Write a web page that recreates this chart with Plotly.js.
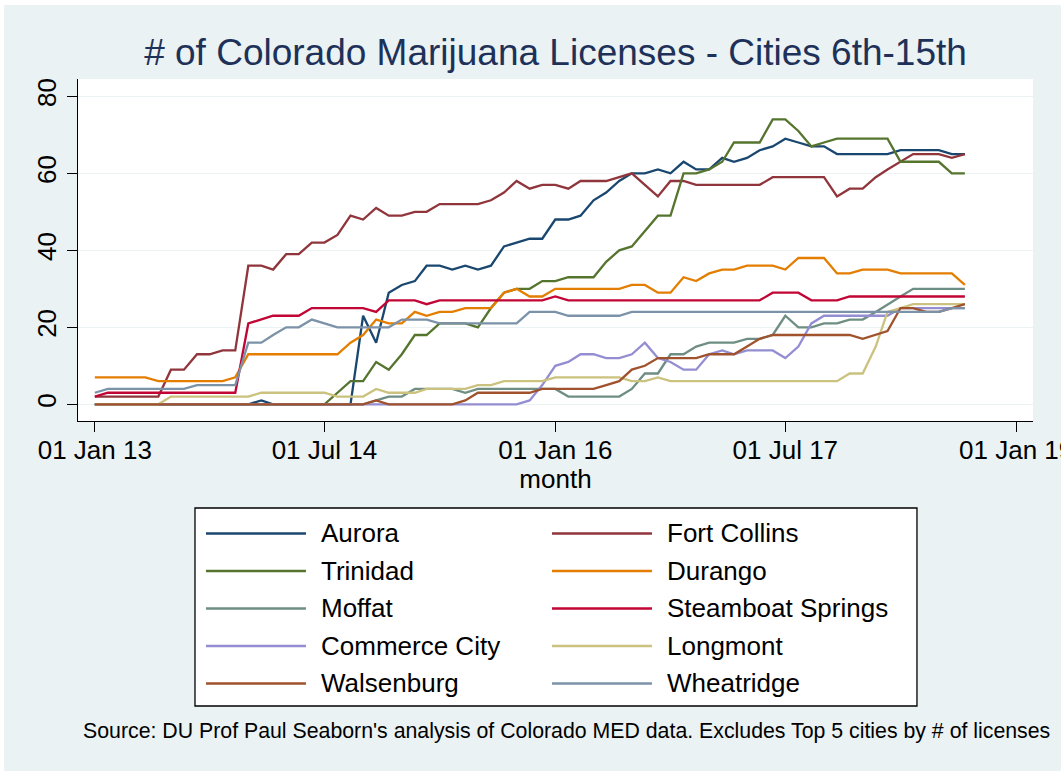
<!DOCTYPE html>
<html>
<head>
<meta charset="utf-8">
<script src="https://cdn.plot.ly/plotly-3.0.1.min.js"></script>
<style>
  html, body { margin: 0; padding: 0; background: #ffffff; }
  #chart { position: absolute; left: 4px; top: 5px; width: 1057px; height: 766px; }
</style>
</head>
<body>
<div id="chart"></div>
<script>
// Months: Jan 2013 .. Sep 2018
const months = [
  "2013-01-01","2013-02-01","2013-03-01","2013-04-01","2013-05-01","2013-06-01","2013-07-01","2013-08-01","2013-09-01","2013-10-01","2013-11-01","2013-12-01",
  "2014-01-01","2014-02-01","2014-03-01","2014-04-01","2014-05-01","2014-06-01","2014-07-01","2014-08-01","2014-09-01","2014-10-01","2014-11-01","2014-12-01",
  "2015-01-01","2015-02-01","2015-03-01","2015-04-01","2015-05-01","2015-06-01","2015-07-01","2015-08-01","2015-09-01","2015-10-01","2015-11-01","2015-12-01",
  "2016-01-01","2016-02-01","2016-03-01","2016-04-01","2016-05-01","2016-06-01","2016-07-01","2016-08-01","2016-09-01","2016-10-01","2016-11-01","2016-12-01",
  "2017-01-01","2017-02-01","2017-03-01","2017-04-01","2017-05-01","2017-06-01","2017-07-01","2017-08-01","2017-09-01","2017-10-01","2017-11-01","2017-12-01",
  "2018-01-01","2018-02-01","2018-03-01","2018-04-01","2018-05-01","2018-06-01","2018-07-01","2018-08-01","2018-09-01"
];

const cityNames = ["Aurora","Fort Collins","Trinidad","Durango","Moffat","Steamboat Springs","Commerce City","Longmont","Walsenburg","Wheatridge"];

const aurora = [0,0,0,0,0,0,0,0,0,0,0,0,0,1,0,0,0,0,0,0,0,23,16,29,31,32,36,36,35,36,35,36,41,42,43,43,48,48,49,53,55,58,60,60,61,60,63,61,61,64,63,64,66,67,69,68,67,67,65,65,65,65,65,66,66,66,66,65,65];
const fortCollins = [2,2,2,2,2,2,9,9,13,13,14,14,36,36,35,39,39,42,42,44,49,48,51,49,49,50,50,52,52,52,52,53,55,58,56,57,57,56,58,58,58,59,60,57,54,58,58,57,57,57,57,57,57,59,59,59,59,59,54,56,56,59,61,63,65,65,65,64,65];
const trinidad = [0,0,0,0,0,0,0,0,0,0,0,0,0,0,0,0,0,0,0,3,6,6,11,9,13,18,18,21,21,21,20,25,29,30,30,32,32,33,33,33,37,40,41,45,49,49,60,60,61,63,68,68,68,74,74,71,67,68,69,69,69,69,69,63,63,63,63,60,60];
const durango = [7,7,7,7,7,6,6,6,6,6,6,7,13,13,13,13,13,13,13,13,16,18,22,21,21,24,23,24,24,25,25,25,29,30,28,28,30,30,30,30,30,30,31,31,29,29,33,32,34,35,35,36,36,36,35,38,38,38,34,34,35,35,35,34,34,34,34,34,31];
const moffat = [0,0,0,0,0,0,0,0,0,0,0,0,0,0,0,0,0,0,0,0,0,0,1,2,2,4,4,4,4,3,4,4,4,4,4,4,4,2,2,2,2,2,4,8,8,13,13,15,16,16,16,17,17,18,23,20,20,21,21,22,22,24,26,28,30,30,30,30,30];
const steamboat = [2,3,3,3,3,3,3,3,3,3,3,3,21,22,23,23,23,25,25,25,25,25,24,27,27,27,26,27,27,27,27,27,27,27,27,27,28,27,27,27,27,27,27,27,27,27,27,27,27,27,27,27,27,29,29,29,27,27,27,28,28,28,28,28,28,28,28,28,28];
const commerceCity = [0,0,0,0,0,0,0,0,0,0,0,0,0,0,0,0,0,0,0,0,0,0,0,0,0,0,0,0,0,0,0,0,0,0,1,5,10,11,13,13,12,12,13,16,12,11,9,9,13,14,13,14,14,14,12,15,21,23,23,23,23,23,23,25,25,25,25,25,25];
const longmont = [0,0,0,0,0,0,2,2,2,2,2,2,2,3,3,3,3,3,3,2,2,2,4,3,3,3,4,4,4,4,5,5,6,6,6,6,7,7,7,7,7,7,6,6,7,6,6,6,6,6,6,6,6,6,6,6,6,6,6,8,8,15,24,25,26,26,26,26,26];
const walsenburg = [0,0,0,0,0,0,0,0,0,0,0,0,0,0,0,0,0,0,0,0,0,0,1,0,0,0,0,0,0,1,3,3,3,3,3,4,4,4,4,4,5,6,9,10,12,12,12,12,13,13,13,15,17,18,18,18,18,18,18,18,17,18,19,25,25,24,24,25,26];
const wheatridge = [3,4,4,4,4,4,4,4,5,5,5,5,16,16,18,20,20,22,21,20,20,20,20,20,22,22,22,21,21,21,21,21,21,21,24,24,24,23,23,23,23,23,24,24,24,24,24,24,24,24,24,24,24,24,24,24,24,24,24,24,24,24,24,24,24,24,24,25,25];

const xTickVals = ["2013-01-01","2014-07-01","2016-01-01","2017-07-01","2019-01-01"];
const xTickText = ["01 Jan 13","01 Jul 14","01 Jan 16","01 Jul 17","01 Jan 19"];
const yTickVals = [0,20,40,60,80];

const seriesValues = [aurora, fortCollins, trinidad, durango, moffat, steamboat, commerceCity, longmont, walsenburg, wheatridge];
const colors = ["#1a476f","#90353b","#55752f","#e37e00","#6e8e84","#c10534","#938dd2","#cac27e","#a0522d","#7b92a8"];

const FONT = "Liberation Sans, Arial, Helvetica, sans-serif";

const traces = cityNames.map((name, i) => ({
  type: "scatter",
  mode: "lines",
  name: name,
  x: months,
  y: seriesValues[i],
  line: { color: colors[i], width: 2.3 },
  showlegend: false,
  hoverinfo: "skip"
}));

// Manual legend (2 columns, row-major), in paper coordinates
const legendRowY = [-0.3289, -0.4386, -0.5482, -0.6579, -0.7675];
const legendLineX = [[0.1340, 0.2387], [0.4963, 0.6010]];
const legendTextX = [0.2524, 0.6147];

const shapes = [{
  type: "rect", xref: "paper", yref: "paper",
  x0: 0.1225, x1: 0.8785, y0: -0.8333, y1: -0.2544,
  fillcolor: "#ffffff", line: { color: "#000000", width: 1.3 }
}];
const annotations = [];
cityNames.forEach((name, i) => {
  const row = Math.floor(i / 2), col = i % 2;
  shapes.push({
    type: "line", xref: "paper", yref: "paper",
    x0: legendLineX[col][0], x1: legendLineX[col][1],
    y0: legendRowY[row], y1: legendRowY[row],
    line: { color: colors[i], width: 2.3 }
  });
  annotations.push({
    xref: "paper", yref: "paper", x: legendTextX[col], y: legendRowY[row],
    xanchor: "left", yanchor: "middle", showarrow: false,
    text: name, font: { family: FONT, size: 26, color: "#000000" }
  });
});
annotations.push({
  xref: "paper", yref: "paper", x: 0.512, y: -0.9064,
  xanchor: "center", yanchor: "middle", showarrow: false,
  text: "Source: DU Prof Paul Seaborn's analysis of Colorado MED data. Excludes Top 5 cities by # of licenses",
  font: { family: FONT, size: 21.3, color: "#000000" }
});

const layout = {
  width: 1057, height: 766,
  margin: { l: 74, r: 28, t: 74, b: 350, pad: 0 },
  paper_bgcolor: "#eaf2f3",
  plot_bgcolor: "#ffffff",
  font: { family: FONT, color: "#000000" },
  title: {
    text: "# of Colorado Marijuana Licenses - Cities 6th-15th",
    font: { family: FONT, size: 37, color: "#1e3159" },
    x: 0.5, xref: "paper", xanchor: "center",
    y: 0.938, yref: "container", yanchor: "middle"
  },
  xaxis: {
    type: "date",
    range: ["2012-11-22", "2019-02-10"],
    tickmode: "array", tickvals: xTickVals, ticktext: xTickText,
    ticks: "outside", ticklen: 10, tickwidth: 1, tickcolor: "#000000",
    ticklabeloverflow: "allow",
    ticklabelstandoff: -5,
    showline: true, linecolor: "#000000", linewidth: 1.3,
    showgrid: false, zeroline: false,
    tickfont: { family: FONT, size: 26, color: "#000000" },
    title: { text: "month", font: { family: FONT, size: 26, color: "#000000" }, standoff: 4 },
    automargin: false
  },
  yaxis: {
    range: [-4.34, 84.5],
    tickmode: "array", tickvals: yTickVals,
    ticks: "outside", ticklen: 10, tickwidth: 1, tickcolor: "#000000",
    tickangle: -90,
    showline: true, linecolor: "#000000", linewidth: 1.3,
    showgrid: true, gridcolor: "#eaf2f3", gridwidth: 1.5,
    zeroline: false,
    tickfont: { family: FONT, size: 26, color: "#000000" },
    automargin: false
  },
  shapes: shapes,
  annotations: annotations,
  showlegend: false
};

Plotly.newPlot("chart", traces, layout, { displayModeBar: false, staticPlot: true });
</script>
</body>
</html>
